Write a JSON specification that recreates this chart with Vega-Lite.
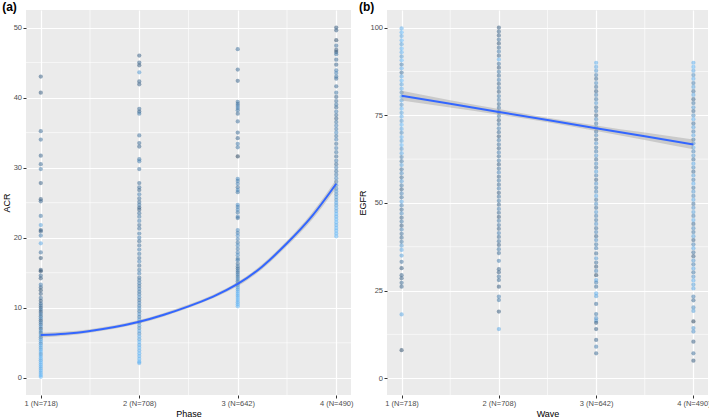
{
  "$schema": "https://vega.github.io/schema/vega-lite/v6.json",
  "padding": {"left": 2, "top": 0, "right": 0, "bottom": 0},
  "spacing": 4,
  "config": {
    "view": {"fill": "#EBEBEB", "stroke": null},
    "axis": {
      "domain": false,
      "tickColor": "#333333",
      "tickSize": 3,
      "tickWidth": 1,
      "labelColor": "#4D4D4D",
      "labelFont": "Liberation Sans",
      "labelFontSize": 7.5,
      "labelPadding": 1.5,
      "labelFlush": false,
      "titleFont": "Liberation Sans",
      "titleFontSize": 9,
      "titleFontWeight": "normal",
      "titleColor": "#000000",
      "titlePadding": 2,
      "gridColor": "#FFFFFF",
      "gridWidth": 1.2
    },
    "title": {"anchor": "start", "font": "Liberation Sans", "fontSize": 12, "fontWeight": "bold", "color": "#000000", "offset": -4}
  },
  "datasets": {
    "acr": [
      {"x":1,"y":43.0,"c":0.35},{"x":1,"y":40.7,"c":0.3},{"x":1,"y":35.2,"c":0.45},{"x":1,"y":34.0,"c":0.5},{"x":1,"y":31.7,"c":0.4},{"x":1,"y":30.5,"c":0.45},{"x":1,"y":29.8,"c":0.55},{"x":1,"y":27.8,"c":0.35},{"x":1,"y":25.5,"c":0.3},{"x":1,"y":25.2,"c":0.4},{"x":1,"y":23.1,"c":0.55},{"x":1,"y":21.8,"c":0.85},{"x":1,"y":21.1,"c":0.3},{"x":1,"y":20.9,"c":0.35},{"x":1,"y":20.3,"c":0.6},{"x":1,"y":19.2,"c":0.9},{"x":1,"y":17.9,"c":0.5},{"x":1,"y":17.1,"c":0.25},{"x":1,"y":15.4,"c":0.3},{"x":1,"y":15.2,"c":0.2},{"x":1,"y":14.6,"c":0.45},{"x":1,"y":14.2,"c":0.3},{"x":1,"y":13.3,"c":0.6},{"x":1,"y":12.9,"c":0.4},{"x":1,"y":12.5,"c":0.25},{"x":1,"y":12.0,"c":0.35},{"x":1,"y":11.4,"c":0.5},{"x":1,"y":11.0,"c":0.3},{"x":1,"y":10.6,"c":0.45},
      {"x":1,"y":10.3,"c":0.5},{"x":1,"y":10.0,"c":0.4},{"x":1,"y":9.7,"c":0.55},{"x":1,"y":9.4,"c":0.3},{"x":1,"y":9.1,"c":0.6},{"x":1,"y":8.8,"c":0.45},{"x":1,"y":8.5,"c":0.7},{"x":1,"y":8.2,"c":0.35},{"x":1,"y":7.9,"c":0.6},{"x":1,"y":7.6,"c":0.5},{"x":1,"y":7.3,"c":0.75},{"x":1,"y":7.0,"c":0.4},{"x":1,"y":6.7,"c":0.8},{"x":1,"y":6.4,"c":0.55},{"x":1,"y":6.1,"c":0.85},{"x":1,"y":5.8,"c":0.6},{"x":1,"y":5.5,"c":0.8},{"x":1,"y":5.2,"c":0.9},{"x":1,"y":4.9,"c":0.7},{"x":1,"y":4.6,"c":0.95},{"x":1,"y":4.3,"c":0.85},{"x":1,"y":4.0,"c":0.9},{"x":1,"y":3.7,"c":1},{"x":1,"y":3.4,"c":0.8},{"x":1,"y":3.1,"c":0.95},{"x":1,"y":2.8,"c":1},{"x":1,"y":2.5,"c":0.9},{"x":1,"y":2.2,"c":1},{"x":1,"y":1.9,"c":0.95},{"x":1,"y":1.6,"c":1},{"x":1,"y":1.3,"c":0.9},{"x":1,"y":1.0,"c":1},{"x":1,"y":0.7,"c":0.95},{"x":1,"y":0.4,"c":1},{"x":1,"y":0.15,"c":1},
      {"x":2,"y":46.0,"c":0.35},{"x":2,"y":45.0,"c":0.4},{"x":2,"y":44.6,"c":0.3},{"x":2,"y":43.6,"c":0.8},{"x":2,"y":42.3,"c":0.4},{"x":2,"y":41.9,"c":0.35},{"x":2,"y":38.4,"c":0.45},{"x":2,"y":38.0,"c":0.4},{"x":2,"y":37.7,"c":0.55},{"x":2,"y":34.6,"c":0.5},{"x":2,"y":33.5,"c":0.45},{"x":2,"y":33.0,"c":0.4},{"x":2,"y":31.2,"c":0.55},{"x":2,"y":30.9,"c":0.6},{"x":2,"y":29.8,"c":0.5},{"x":2,"y":27.8,"c":0.45},{"x":2,"y":27.2,"c":0.5},{"x":2,"y":26.8,"c":0.4},{"x":2,"y":26.2,"c":0.6},{"x":2,"y":25.6,"c":0.5},{"x":2,"y":25.1,"c":0.45},{"x":2,"y":24.7,"c":0.55},{"x":2,"y":24.3,"c":0.4},{"x":2,"y":24.0,"c":0.35},{"x":2,"y":23.5,"c":0.5},{"x":2,"y":23.0,"c":0.55},{"x":2,"y":22.4,"c":0.6},{"x":2,"y":21.8,"c":0.45},{"x":2,"y":21.3,"c":0.5},{"x":2,"y":20.6,"c":0.55},{"x":2,"y":20.0,"c":0.6},{"x":2,"y":19.5,"c":0.45},{"x":2,"y":18.9,"c":0.5},{"x":2,"y":18.3,"c":0.6},{"x":2,"y":17.7,"c":0.55},{"x":2,"y":17.1,"c":0.5},{"x":2,"y":16.6,"c":0.65},{"x":2,"y":16.0,"c":0.45},{"x":2,"y":15.4,"c":0.55},{"x":2,"y":14.9,"c":0.6},{"x":2,"y":14.3,"c":0.5},
      {"x":2,"y":13.9,"c":0.55},{"x":2,"y":13.5,"c":0.6},{"x":2,"y":13.1,"c":0.5},{"x":2,"y":12.7,"c":0.65},{"x":2,"y":12.3,"c":0.55},{"x":2,"y":11.9,"c":0.6},{"x":2,"y":11.5,"c":0.7},{"x":2,"y":11.1,"c":0.5},{"x":2,"y":10.7,"c":0.65},{"x":2,"y":10.3,"c":0.6},{"x":2,"y":9.9,"c":0.7},{"x":2,"y":9.5,"c":0.55},{"x":2,"y":9.1,"c":0.75},{"x":2,"y":8.7,"c":0.6},{"x":2,"y":8.3,"c":0.8},{"x":2,"y":7.9,"c":0.65},{"x":2,"y":7.5,"c":0.85},{"x":2,"y":7.1,"c":0.7},{"x":2,"y":6.7,"c":0.9},{"x":2,"y":6.3,"c":0.75},{"x":2,"y":5.9,"c":0.95},{"x":2,"y":5.5,"c":0.85},{"x":2,"y":5.1,"c":1},{"x":2,"y":4.7,"c":0.9},{"x":2,"y":4.3,"c":1},{"x":2,"y":3.9,"c":0.95},{"x":2,"y":3.5,"c":1},{"x":2,"y":3.1,"c":0.95},{"x":2,"y":2.7,"c":1},{"x":2,"y":2.3,"c":1},{"x":2,"y":2.1,"c":0.95},
      {"x":3,"y":46.9,"c":0.5},{"x":3,"y":44.0,"c":0.45},{"x":3,"y":42.4,"c":0.4},{"x":3,"y":39.4,"c":0.55},{"x":3,"y":39.1,"c":0.5},{"x":3,"y":38.8,"c":0.6},{"x":3,"y":38.5,"c":0.65},{"x":3,"y":38.2,"c":0.55},{"x":3,"y":37.7,"c":0.45},{"x":3,"y":36.6,"c":0.5},{"x":3,"y":35.0,"c":0.45},{"x":3,"y":34.2,"c":0.4},{"x":3,"y":33.4,"c":0.6},{"x":3,"y":32.9,"c":0.55},{"x":3,"y":31.6,"c":0.1},{"x":3,"y":28.4,"c":0.7},{"x":3,"y":28.1,"c":0.6},{"x":3,"y":27.7,"c":0.65},{"x":3,"y":27.2,"c":0.5},{"x":3,"y":26.8,"c":0.7},{"x":3,"y":26.5,"c":0.55},{"x":3,"y":24.7,"c":0.75},{"x":3,"y":24.4,"c":0.6},{"x":3,"y":24.0,"c":0.7},{"x":3,"y":23.6,"c":0.55},{"x":3,"y":23.0,"c":0.65},{"x":3,"y":22.8,"c":0.5},{"x":3,"y":21.1,"c":0.7},{"x":3,"y":20.7,"c":0.6},{"x":3,"y":20.3,"c":0.75},{"x":3,"y":19.8,"c":0.65},{"x":3,"y":19.3,"c":0.55},{"x":3,"y":18.9,"c":0.7},{"x":3,"y":18.4,"c":0.6},{"x":3,"y":17.9,"c":0.65},{"x":3,"y":17.5,"c":0.7},{"x":3,"y":17.0,"c":0.55},{"x":3,"y":16.8,"c":0.6},
      {"x":3,"y":16.3,"c":0.5},{"x":3,"y":15.9,"c":0.55},{"x":3,"y":15.6,"c":0.45},{"x":3,"y":15.3,"c":0.6},{"x":3,"y":15.0,"c":0.5},{"x":3,"y":14.7,"c":0.65},{"x":3,"y":14.4,"c":0.55},{"x":3,"y":14.1,"c":0.7},{"x":3,"y":13.8,"c":0.6},{"x":3,"y":13.5,"c":0.75},{"x":3,"y":13.2,"c":0.8},{"x":3,"y":12.9,"c":0.85},{"x":3,"y":12.6,"c":0.9},{"x":3,"y":12.3,"c":0.95},{"x":3,"y":12.0,"c":1},{"x":3,"y":11.7,"c":0.95},{"x":3,"y":11.4,"c":1},{"x":3,"y":11.1,"c":1},{"x":3,"y":10.8,"c":0.95},{"x":3,"y":10.5,"c":1},{"x":3,"y":10.2,"c":1},
      {"x":4,"y":50.0,"c":0.3},{"x":4,"y":49.6,"c":0.35},{"x":4,"y":48.2,"c":0.2},{"x":4,"y":47.4,"c":0.5},{"x":4,"y":46.8,"c":0.3},{"x":4,"y":46.5,"c":0.25},{"x":4,"y":46.2,"c":0.55},{"x":4,"y":45.4,"c":0.45},{"x":4,"y":44.7,"c":0.4},{"x":4,"y":43.9,"c":0.6},{"x":4,"y":43.5,"c":0.65},{"x":4,"y":43.0,"c":0.55},{"x":4,"y":42.7,"c":0.5},{"x":4,"y":41.6,"c":0.45},{"x":4,"y":40.7,"c":0.55},{"x":4,"y":40.1,"c":0.4},{"x":4,"y":39.5,"c":0.5},{"x":4,"y":39.0,"c":0.55},{"x":4,"y":38.6,"c":0.45},{"x":4,"y":38.0,"c":0.6},{"x":4,"y":37.5,"c":0.5},{"x":4,"y":37.0,"c":0.4},{"x":4,"y":36.5,"c":0.55},{"x":4,"y":36.0,"c":0.65},{"x":4,"y":35.5,"c":0.6},{"x":4,"y":35.0,"c":0.7},{"x":4,"y":34.5,"c":0.55},{"x":4,"y":34.0,"c":0.65},{"x":4,"y":33.4,"c":0.5},{"x":4,"y":32.8,"c":0.6},{"x":4,"y":32.2,"c":0.55},{"x":4,"y":31.6,"c":0.45},{"x":4,"y":31.0,"c":0.6},{"x":4,"y":30.5,"c":0.5},{"x":4,"y":30.0,"c":0.65},{"x":4,"y":29.5,"c":0.55},{"x":4,"y":29.0,"c":0.6},{"x":4,"y":28.5,"c":0.7},{"x":4,"y":28.0,"c":0.6},{"x":4,"y":27.5,"c":0.75},{"x":4,"y":27.0,"c":0.7},{"x":4,"y":26.6,"c":0.8},{"x":4,"y":26.2,"c":0.75},{"x":4,"y":25.8,"c":0.85},{"x":4,"y":25.4,"c":0.8},{"x":4,"y":25.0,"c":0.9},{"x":4,"y":24.6,"c":0.85},{"x":4,"y":24.2,"c":0.95},{"x":4,"y":23.8,"c":0.9},{"x":4,"y":23.4,"c":1},{"x":4,"y":23.0,"c":0.95},{"x":4,"y":22.6,"c":1},{"x":4,"y":22.2,"c":1},{"x":4,"y":21.8,"c":0.95},{"x":4,"y":21.4,"c":1},{"x":4,"y":21.0,"c":1},{"x":4,"y":20.6,"c":1},{"x":4,"y":20.2,"c":1}
    ],
    "acrFit": [
      {"x":1,"fit":6.1,"lo":5.75,"hi":6.45},{"x":1.25,"fit":6.3,"lo":6.0,"hi":6.6},{"x":1.5,"fit":6.7,"lo":6.45,"hi":6.95},{"x":1.75,"fit":7.25,"lo":7.0,"hi":7.5},{"x":2,"fit":8.0,"lo":7.75,"hi":8.25},{"x":2.25,"fit":9.0,"lo":8.75,"hi":9.25},{"x":2.5,"fit":10.2,"lo":9.95,"hi":10.45},{"x":2.75,"fit":11.6,"lo":11.35,"hi":11.85},{"x":3,"fit":13.4,"lo":13.1,"hi":13.7},{"x":3.25,"fit":15.9,"lo":15.55,"hi":16.25},{"x":3.5,"fit":19.2,"lo":18.8,"hi":19.6},{"x":3.75,"fit":23.0,"lo":22.5,"hi":23.5},{"x":4,"fit":27.7,"lo":27.1,"hi":28.3}
    ],
    "egfr": [
      {"x":1,"y":99.8,"c":0.95},{"x":1,"y":98.7,"c":1},{"x":1,"y":97.6,"c":0.9},{"x":1,"y":96.4,"c":1},{"x":1,"y":95.3,"c":0.85},{"x":1,"y":94.1,"c":1},{"x":1,"y":93.0,"c":0.95},{"x":1,"y":91.8,"c":0.8},{"x":1,"y":90.7,"c":1},{"x":1,"y":89.5,"c":0.6},{"x":1,"y":88.4,"c":0.95},{"x":1,"y":87.2,"c":0.5},{"x":1,"y":86.1,"c":0.9},{"x":1,"y":84.9,"c":1},{"x":1,"y":83.8,"c":0.85},{"x":1,"y":82.6,"c":0.95},{"x":1,"y":81.5,"c":0.7},{"x":1,"y":80.3,"c":1},{"x":1,"y":79.2,"c":0.9},{"x":1,"y":78.0,"c":0.75},{"x":1,"y":76.9,"c":1},{"x":1,"y":75.7,"c":0.85},{"x":1,"y":74.6,"c":0.95},{"x":1,"y":73.4,"c":0.8},{"x":1,"y":72.3,"c":1},{"x":1,"y":71.1,"c":0.9},{"x":1,"y":70.0,"c":0.7},{"x":1,"y":68.8,"c":0.95},{"x":1,"y":67.7,"c":0.85},{"x":1,"y":66.5,"c":1},{"x":1,"y":65.4,"c":0.75},{"x":1,"y":64.2,"c":0.9},{"x":1,"y":63.1,"c":0.6},{"x":1,"y":61.9,"c":0.55},{"x":1,"y":60.8,"c":0.85},{"x":1,"y":59.6,"c":0.5},{"x":1,"y":58.5,"c":0.7},{"x":1,"y":57.3,"c":0.45},{"x":1,"y":56.2,"c":0.8},{"x":1,"y":55.0,"c":0.55},{"x":1,"y":53.9,"c":0.4},{"x":1,"y":52.7,"c":0.65},{"x":1,"y":51.6,"c":0.5},{"x":1,"y":50.4,"c":0.9},{"x":1,"y":49.3,"c":0.6},{"x":1,"y":48.1,"c":0.45},{"x":1,"y":47.0,"c":0.7},{"x":1,"y":45.8,"c":0.4},{"x":1,"y":44.7,"c":0.55},{"x":1,"y":43.5,"c":0.35},{"x":1,"y":42.4,"c":0.6},{"x":1,"y":41.2,"c":0.5},{"x":1,"y":40.1,"c":0.45},{"x":1,"y":38.9,"c":0.55},{"x":1,"y":37.8,"c":0.8},{"x":1,"y":36.6,"c":0.9},{"x":1,"y":35.0,"c":0.85},{"x":1,"y":33.2,"c":0.5},{"x":1,"y":31.4,"c":0.3},{"x":1,"y":29.4,"c":0.4},{"x":1,"y":28.5,"c":0.35},{"x":1,"y":27.2,"c":0.45},{"x":1,"y":26.1,"c":0.4},{"x":1,"y":18.2,"c":0.9},{"x":1,"y":8.0,"c":0.2},
      {"x":2,"y":100.0,"c":0.3},{"x":2,"y":98.9,"c":0.4},{"x":2,"y":97.8,"c":0.35},{"x":2,"y":96.6,"c":0.5},{"x":2,"y":95.5,"c":0.3},{"x":2,"y":94.3,"c":0.45},{"x":2,"y":93.2,"c":0.6},{"x":2,"y":92.0,"c":0.4},{"x":2,"y":90.9,"c":0.95},{"x":2,"y":89.7,"c":0.5},{"x":2,"y":88.6,"c":0.35},{"x":2,"y":87.4,"c":0.55},{"x":2,"y":86.3,"c":0.45},{"x":2,"y":85.1,"c":0.6},{"x":2,"y":84.0,"c":0.4},{"x":2,"y":82.8,"c":0.5},{"x":2,"y":81.7,"c":0.35},{"x":2,"y":80.5,"c":0.55},{"x":2,"y":79.4,"c":0.6},{"x":2,"y":78.2,"c":0.45},{"x":2,"y":77.1,"c":0.5},{"x":2,"y":75.9,"c":0.4},{"x":2,"y":74.8,"c":0.55},{"x":2,"y":73.6,"c":0.35},{"x":2,"y":72.5,"c":0.5},{"x":2,"y":71.3,"c":0.6},{"x":2,"y":70.2,"c":0.45},{"x":2,"y":69.0,"c":0.3},{"x":2,"y":67.9,"c":0.55},{"x":2,"y":66.7,"c":0.5},{"x":2,"y":65.6,"c":0.4},{"x":2,"y":64.4,"c":0.6},{"x":2,"y":63.3,"c":0.45},{"x":2,"y":62.1,"c":0.55},{"x":2,"y":61.0,"c":0.35},{"x":2,"y":59.8,"c":0.5},{"x":2,"y":58.7,"c":0.65},{"x":2,"y":57.5,"c":0.4},{"x":2,"y":56.4,"c":0.55},{"x":2,"y":55.2,"c":0.45},{"x":2,"y":54.1,"c":0.6},{"x":2,"y":52.9,"c":0.35},{"x":2,"y":51.8,"c":0.5},{"x":2,"y":50.6,"c":0.55},{"x":2,"y":49.5,"c":0.4},{"x":2,"y":48.3,"c":0.6},{"x":2,"y":47.2,"c":0.45},{"x":2,"y":46.0,"c":0.3},{"x":2,"y":44.9,"c":0.55},{"x":2,"y":43.7,"c":0.5},{"x":2,"y":42.6,"c":0.4},{"x":2,"y":41.4,"c":0.6},{"x":2,"y":40.3,"c":0.45},{"x":2,"y":39.1,"c":0.5},{"x":2,"y":38.0,"c":0.35},{"x":2,"y":36.8,"c":0.55},{"x":2,"y":35.7,"c":0.45},{"x":2,"y":33.5,"c":0.6},{"x":2,"y":31.1,"c":0.4},{"x":2,"y":30.2,"c":0.35},{"x":2,"y":29.0,"c":0.5},{"x":2,"y":28.0,"c":0.45},{"x":2,"y":26.1,"c":0.3},{"x":2,"y":23.3,"c":0.6},{"x":2,"y":22.3,"c":0.55},{"x":2,"y":19.0,"c":0.3},{"x":2,"y":14.0,"c":0.9},
      {"x":3,"y":90.0,"c":0.95},{"x":3,"y":88.8,"c":0.9},{"x":3,"y":87.7,"c":0.8},{"x":3,"y":86.5,"c":0.6},{"x":3,"y":85.4,"c":0.45},{"x":3,"y":84.2,"c":0.7},{"x":3,"y":83.1,"c":0.5},{"x":3,"y":81.9,"c":0.4},{"x":3,"y":80.8,"c":0.65},{"x":3,"y":79.6,"c":0.55},{"x":3,"y":78.5,"c":0.8},{"x":3,"y":77.3,"c":0.45},{"x":3,"y":76.2,"c":0.6},{"x":3,"y":75.0,"c":0.35},{"x":3,"y":73.9,"c":0.7},{"x":3,"y":72.7,"c":0.55},{"x":3,"y":71.6,"c":0.85},{"x":3,"y":70.4,"c":0.5},{"x":3,"y":69.3,"c":0.65},{"x":3,"y":68.1,"c":0.4},{"x":3,"y":67.0,"c":0.75},{"x":3,"y":65.8,"c":0.55},{"x":3,"y":64.7,"c":0.6},{"x":3,"y":63.5,"c":0.8},{"x":3,"y":62.4,"c":0.45},{"x":3,"y":61.2,"c":0.7},{"x":3,"y":60.1,"c":0.5},{"x":3,"y":58.9,"c":0.85},{"x":3,"y":57.8,"c":0.6},{"x":3,"y":56.6,"c":0.4},{"x":3,"y":55.5,"c":0.75},{"x":3,"y":54.3,"c":0.55},{"x":3,"y":53.2,"c":0.65},{"x":3,"y":52.0,"c":0.9},{"x":3,"y":50.9,"c":0.5},{"x":3,"y":49.7,"c":0.7},{"x":3,"y":48.6,"c":0.45},{"x":3,"y":47.4,"c":0.8},{"x":3,"y":46.3,"c":0.6},{"x":3,"y":45.1,"c":0.55},{"x":3,"y":44.0,"c":0.75},{"x":3,"y":42.8,"c":0.5},{"x":3,"y":41.7,"c":0.65},{"x":3,"y":40.5,"c":0.4},{"x":3,"y":39.4,"c":0.7},{"x":3,"y":38.2,"c":0.55},{"x":3,"y":37.1,"c":0.6},{"x":3,"y":35.6,"c":0.45},{"x":3,"y":34.2,"c":0.8},{"x":3,"y":33.0,"c":0.5},{"x":3,"y":31.8,"c":0.3},{"x":3,"y":30.6,"c":0.65},{"x":3,"y":29.4,"c":0.2},{"x":3,"y":28.0,"c":0.9},{"x":3,"y":27.3,"c":0.6},{"x":3,"y":26.1,"c":0.45},{"x":3,"y":24.2,"c":0.95},{"x":3,"y":23.4,"c":0.85},{"x":3,"y":21.2,"c":0.5},{"x":3,"y":18.3,"c":0.55},{"x":3,"y":17.1,"c":0.75},{"x":3,"y":16.4,"c":0.8},{"x":3,"y":15.8,"c":0.3},{"x":3,"y":14.0,"c":0.35},{"x":3,"y":10.9,"c":0.4},{"x":3,"y":9.0,"c":0.6},{"x":3,"y":7.1,"c":0.45},
      {"x":4,"y":90.0,"c":0.95},{"x":4,"y":88.8,"c":1},{"x":4,"y":87.7,"c":0.9},{"x":4,"y":86.5,"c":0.7},{"x":4,"y":85.4,"c":0.95},{"x":4,"y":84.2,"c":0.6},{"x":4,"y":83.1,"c":0.85},{"x":4,"y":81.9,"c":0.5},{"x":4,"y":80.8,"c":0.9},{"x":4,"y":79.6,"c":0.4},{"x":4,"y":78.5,"c":0.55},{"x":4,"y":77.3,"c":0.8},{"x":4,"y":76.2,"c":0.45},{"x":4,"y":75.0,"c":0.7},{"x":4,"y":73.9,"c":0.95},{"x":4,"y":72.7,"c":0.5},{"x":4,"y":71.6,"c":0.85},{"x":4,"y":70.4,"c":0.6},{"x":4,"y":69.3,"c":0.9},{"x":4,"y":68.1,"c":0.55},{"x":4,"y":67.0,"c":0.75},{"x":4,"y":65.8,"c":0.95},{"x":4,"y":64.7,"c":0.65},{"x":4,"y":63.5,"c":0.8},{"x":4,"y":62.4,"c":0.5},{"x":4,"y":61.2,"c":0.9},{"x":4,"y":60.1,"c":0.7},{"x":4,"y":58.9,"c":0.45},{"x":4,"y":57.8,"c":0.85},{"x":4,"y":56.6,"c":0.6},{"x":4,"y":55.5,"c":0.95},{"x":4,"y":54.3,"c":0.55},{"x":4,"y":53.2,"c":0.8},{"x":4,"y":52.0,"c":0.65},{"x":4,"y":50.9,"c":0.9},{"x":4,"y":49.7,"c":0.5},{"x":4,"y":48.6,"c":0.75},{"x":4,"y":47.4,"c":0.85},{"x":4,"y":46.3,"c":0.6},{"x":4,"y":45.1,"c":0.95},{"x":4,"y":44.0,"c":0.45},{"x":4,"y":42.8,"c":0.7},{"x":4,"y":41.7,"c":0.55},{"x":4,"y":40.5,"c":0.85},{"x":4,"y":39.4,"c":0.4},{"x":4,"y":38.2,"c":0.65},{"x":4,"y":37.1,"c":0.9},{"x":4,"y":35.9,"c":0.5},{"x":4,"y":34.8,"c":0.35},{"x":4,"y":33.6,"c":0.8},{"x":4,"y":32.5,"c":0.6},{"x":4,"y":31.3,"c":0.9},{"x":4,"y":30.2,"c":0.55},{"x":4,"y":29.0,"c":0.75},{"x":4,"y":27.9,"c":0.95},{"x":4,"y":26.7,"c":0.85},{"x":4,"y":25.6,"c":0.9},{"x":4,"y":23.3,"c":0.6},{"x":4,"y":22.2,"c":0.45},{"x":4,"y":20.2,"c":0.7},{"x":4,"y":19.2,"c":0.85},{"x":4,"y":16.2,"c":0.1},{"x":4,"y":14.3,"c":0.8},{"x":4,"y":13.3,"c":0.75},{"x":4,"y":10.4,"c":0.35},{"x":4,"y":7.1,"c":0.5},{"x":4,"y":5.0,"c":0.3}
    ],
    "egfrFit": [
      {"x":1,"fit":80.6,"lo":79.2,"hi":82.0},{"x":1.5,"fit":78.28,"lo":77.23,"hi":79.33},{"x":2,"fit":75.97,"lo":75.17,"hi":76.77},{"x":2.5,"fit":73.65,"lo":73.0,"hi":74.3},{"x":3,"fit":71.33,"lo":70.53,"hi":72.13},{"x":3.5,"fit":69.02,"lo":67.97,"hi":70.07},{"x":4,"fit":66.7,"lo":65.3,"hi":68.1}
    ]
  },
  "hconcat": [
    {
      "title": {"text": "(a)"},
      "width": 325,
      "height": 385,
      "layer": [
        {
          "data": {"values": [{"g": 1.5}, {"g": 2.5}, {"g": 3.5}]},
          "mark": {"type": "rule", "color": "#FFFFFF", "strokeWidth": 0.6},
          "encoding": {"x": {"field": "g", "type": "quantitative", "scale": {"domain": [0.85, 4.15], "nice": false, "zero": false}}}
        },
        {
          "data": {"values": [{"g": 5}, {"g": 15}, {"g": 25}, {"g": 35}, {"g": 45}]},
          "mark": {"type": "rule", "color": "#FFFFFF", "strokeWidth": 0.6},
          "encoding": {"y": {"field": "g", "type": "quantitative", "scale": {"domain": [-2.45, 52.5], "nice": false, "zero": false}}}
        },
        {
          "data": {"name": "acr"},
          "mark": {"type": "circle", "size": 18, "opacity": 0.5},
          "encoding": {
            "x": {"field": "x", "type": "quantitative", "title": "Phase",
                  "scale": {"domain": [0.85, 4.15], "nice": false, "zero": false},
                  "axis": {"values": [1, 2, 3, 4], "labelExpr": "datum.value == 1 ? '1 (N=718)' : datum.value == 2 ? '2 (N=708)' : datum.value == 3 ? '3 (N=642)' : '4 (N=490)'"}},
            "y": {"field": "y", "type": "quantitative", "title": "ACR",
                  "scale": {"domain": [-2.45, 52.5], "nice": false, "zero": false},
                  "axis": {"values": [0, 10, 20, 30, 40, 50]}},
            "color": {"field": "c", "type": "quantitative", "scale": {"domain": [0, 1], "range": ["#132B43", "#56B1F7"]}, "legend": null}
          }
        },
        {
          "data": {"name": "acrFit"},
          "mark": {"type": "area", "color": "#999999", "opacity": 0.4, "interpolate": "natural"},
          "encoding": {
            "x": {"field": "x", "type": "quantitative"},
            "y": {"field": "lo", "type": "quantitative"},
            "y2": {"field": "hi"}
          }
        },
        {
          "data": {"name": "acrFit"},
          "mark": {"type": "line", "color": "#3366FF", "strokeWidth": 2, "interpolate": "natural"},
          "encoding": {
            "x": {"field": "x", "type": "quantitative"},
            "y": {"field": "fit", "type": "quantitative"}
          }
        }
      ]
    },
    {
      "title": {"text": "(b)"},
      "width": 321,
      "height": 385,
      "layer": [
        {
          "data": {"values": [{"g": 1.5}, {"g": 2.5}, {"g": 3.5}]},
          "mark": {"type": "rule", "color": "#FFFFFF", "strokeWidth": 0.6},
          "encoding": {"x": {"field": "g", "type": "quantitative", "scale": {"domain": [0.85, 4.15], "nice": false, "zero": false}}}
        },
        {
          "data": {"values": [{"g": 12.5}, {"g": 37.5}, {"g": 62.5}, {"g": 87.5}]},
          "mark": {"type": "rule", "color": "#FFFFFF", "strokeWidth": 0.6},
          "encoding": {"y": {"field": "g", "type": "quantitative", "scale": {"domain": [-4.8, 105.05], "nice": false, "zero": false}}}
        },
        {
          "data": {"name": "egfr"},
          "mark": {"type": "circle", "size": 18, "opacity": 0.5},
          "encoding": {
            "x": {"field": "x", "type": "quantitative", "title": "Wave",
                  "scale": {"domain": [0.85, 4.15], "nice": false, "zero": false},
                  "axis": {"values": [1, 2, 3, 4], "labelExpr": "datum.value == 1 ? '1 (N=718)' : datum.value == 2 ? '2 (N=708)' : datum.value == 3 ? '3 (N=642)' : '4 (N=490)'"}},
            "y": {"field": "y", "type": "quantitative", "title": "EGFR",
                  "scale": {"domain": [-4.8, 105.05], "nice": false, "zero": false},
                  "axis": {"values": [0, 25, 50, 75, 100]}},
            "color": {"field": "c", "type": "quantitative", "scale": {"domain": [0, 1], "range": ["#132B43", "#56B1F7"]}, "legend": null}
          }
        },
        {
          "data": {"name": "egfrFit"},
          "mark": {"type": "area", "color": "#999999", "opacity": 0.4, "interpolate": "monotone"},
          "encoding": {
            "x": {"field": "x", "type": "quantitative"},
            "y": {"field": "lo", "type": "quantitative"},
            "y2": {"field": "hi"}
          }
        },
        {
          "data": {"name": "egfrFit"},
          "mark": {"type": "line", "color": "#3366FF", "strokeWidth": 2},
          "encoding": {
            "x": {"field": "x", "type": "quantitative"},
            "y": {"field": "fit", "type": "quantitative"}
          }
        }
      ]
    }
  ]
}
